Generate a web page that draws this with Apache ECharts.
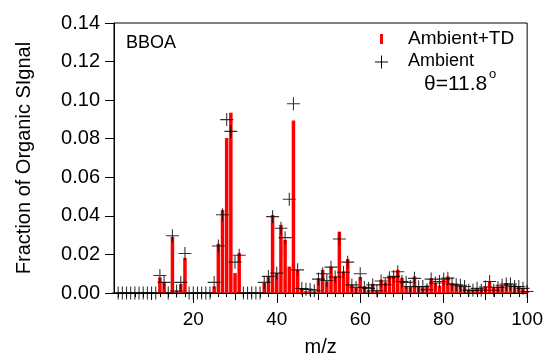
<!DOCTYPE html>
<html>
<head>
<meta charset="utf-8">
<script src="https://cdn.jsdelivr.net/npm/echarts@6/dist/echarts.min.js"></script>
<style>
html,body{margin:0;padding:0;background:#fff;}
#c{width:546px;height:362px;}
</style>
</head>
<body>
<div id="c"></div>
<script>
// m/z values (x categories)
var mz = [2,3,4,5,6,7,8,9,10,11,12,13,14,15,16,17,18,19,20,21,22,23,24,25,26,27,28,29,30,31,32,33,34,35,36,37,38,39,40,41,42,43,44,45,46,47,48,49,50,51,52,53,54,55,56,57,58,59,60,61,62,63,64,65,66,67,68,69,70,71,72,73,74,75,76,77,78,79,80,81,82,83,84,85,86,87,88,89,90,91,92,93,94,95,96,97,98,99,100];

// Ambient+TD (red bars), fraction of organic signal
var ambientTD = [
  0,0,0,0,0,0,0,0,0,0,            // 2-11
  0.0081,0.0055,0.0005,0.0292,0.0012,0.0046,0.0182, // 12-18
  0,0,0,0,0,0,                    // 19-24
  0.0034,0.0255,0.0430,0.0804,0.0935,0.0103,0.0207, // 25-31
  0,0,0,0,0,                      // 32-36
  0.0052,0.0086,0.0404,0.0103,0.0353,0.0275,0.0137,0.0895,0.0120,0.0026, // 37-46
  0.0010,0.0008,0.0008,0.0077,0.0120,0.0060,0.0137,0.0086,0.0318,0.0112, // 47-56
  0.0176,0.0043,0.0026,0.0083,0.0034,0.0017,0.0048,0.0014,0.0069,0.0055, // 57-66
  0.0083,0.0086,0.0120,0.0079,0.0034,0.0034,0.0086,0.0033,0.0030,0.0040, // 67-76
  0.0077,0.0052,0.0038,0.0069,0.0086,0.0052,0.0043,0.0038,0.0034,0.0017, // 77-86
  0.0017,0.0026,0.0021,0.0034,0.0060,0.0026,0.0034,0.0038,0.0052,0.0043, // 87-96
  0.0043,0.0031,0.0026,0.0008     // 97-100
];

// Ambient (black crosses)
var ambient = [
  0,0,0,0,0,0,0,0,0,0,            // 2-11
  0.0091,0.0055,0,0.0297,0.0010,0.0055,0.0205, // 12-18
  0,0,0,0,0,0,                    // 19-24
  0.0055,0.0244,0.0406,0.0899,0.0838,0.0160,0.0196, // 25-31
  0,0,0,0,0,                      // 32-36
  0.0055,0.0086,0.0396,0.0103,0.0336,0.0287,0.0486,0.0981,0.0120,0.0023, // 37-46
  0.0020,0.0018,0.0012,0.0072,0.0100,0.0065,0.0134,0.0083,0.0280,0.0108, // 47-56
  0.0160,0.0042,0.0029,0.0100,0.0029,0.0024,0.0042,0.0012,0.0062,0.0043, // 57-66
  0.0079,0.0086,0.0110,0.0060,0.0055,0.0034,0.0076,0.0033,0.0034,0.0017, // 67-76
  0.0072,0.0052,0.0060,0.0072,0.0077,0.0047,0.0043,0.0040,0.0034,0.0014, // 77-86
  0.0014,0.0024,0.0014,0.0031,0.0060,0.0014,0.0029,0.0040,0.0047,0.0047, // 87-96
  0.0034,0.0034,0.0024,0.0008     // 97-100
];

// Tick labels / tick positions
var xMajorTicks = [20,40,60,80,100];
var xMidTicks = [10,30,50,70,90];
var xMinorTicks = [2,4,6,8,12,14,16,18,22,24,26,28,32,34,36,38,42,44,46,48,52,54,56,58,62,64,66,68,72,74,76,78,82,84,86,88,92,94,96,98];
var yTicks = [0,0.02,0.04,0.06,0.08,0.10,0.12,0.14];

var FONT = 'Liberation Sans, Arial, Helvetica, sans-serif';

var barData = [], crossData = [];
for (var i = 0; i < mz.length; i++) {
  if (ambientTD[i] > 0) barData.push([mz[i], ambientTD[i]]);
  crossData.push([mz[i], ambient[i]]);
}

var PLUS = 'path://M0,5.5h12v1h-12z M5.5,0h1v12h-1z';

function xAx(ticks, len, showLine, showLabel) {
  return {
    type: 'value', min: 1, max: 100, position: 'bottom', gridIndex: 0,
    splitLine: {show: false},
    axisLine: {show: showLine, onZero: false, lineStyle: {color: '#000', width: 1}},
    axisTick: {show: true, inside: false, length: len, customValues: ticks, lineStyle: {color: '#000', width: 1}},
    axisLabel: {show: showLabel, customValues: showLabel ? ticks : undefined, color: '#000', fontSize: 19, fontFamily: FONT, margin: 17},
    name: showLabel ? 'm/z' : '',
    nameLocation: 'middle', nameGap: 44,
    nameTextStyle: {color: '#000', fontSize: 20, fontFamily: FONT}
  };
}

var chart = echarts.init(document.getElementById('c'), null, {renderer: 'canvas'});
chart.setOption({
  animation: false,
  backgroundColor: '#fff',
  grid: {left: 114, right: 17, top: 23, bottom: 69, show: true, borderColor: '#000', borderWidth: 1, backgroundColor: 'transparent'},
  xAxis: [
    xAx(xMajorTicks, 10, true, true),
    xAx(xMidTicks, 7, false, false),
    xAx(xMinorTicks, 4, false, false)
  ],
  yAxis: {
    type: 'value', min: 0, max: 0.14, interval: 0.02,
    splitLine: {show: false},
    axisLine: {show: true, lineStyle: {color: '#000', width: 1}},
    axisTick: {show: true, inside: false, length: 9, lineStyle: {color: '#000', width: 1}},
    axisLabel: {color: '#000', fontSize: 20, fontFamily: FONT, margin: 14,
      formatter: function (v) { return v.toFixed(2); }},
    name: 'Fraction of Organic SIgnal',
    nameLocation: 'middle', nameGap: 80, nameRotate: 90,
    nameTextStyle: {color: '#000', fontSize: 20, fontFamily: FONT}
  },
  series: [
    {
      name: 'Ambient+TD', type: 'bar', xAxisIndex: 0, yAxisIndex: 0,
      data: barData, barWidth: 3.5,
      itemStyle: {color: '#ff0000'}, z: 2
    },
    {
      name: 'Ambient', type: 'scatter', xAxisIndex: 0, yAxisIndex: 0,
      data: crossData, symbol: PLUS, symbolSize: 13, clip: false,
      itemStyle: {color: '#000'}, z: 3
    }
  ],
  graphic: [
    {type: 'text', left: 126, top: 34, style: {text: 'BBOA', fill: '#000', font: '18px ' + FONT}},
    {type: 'rect', shape: {x: 380, y: 34, width: 3, height: 10}, style: {fill: '#ff0000'}},
    {type: 'rect', shape: {x: 375, y: 61.5, width: 13, height: 1}, style: {fill: '#000'}},
    {type: 'rect', shape: {x: 381, y: 55.5, width: 1, height: 13}, style: {fill: '#000'}},
    {type: 'text', x: 408, y: 39, style: {text: 'Ambient+TD', fill: '#000', font: '19px ' + FONT, verticalAlign: 'middle'}},
    {type: 'text', x: 408, y: 61, style: {text: 'Ambient', fill: '#000', font: '18px ' + FONT, verticalAlign: 'middle'}},
    {type: 'text', x: 424, y: 84, style: {text: 'θ=11.8', fill: '#000', font: '21px ' + FONT, verticalAlign: 'middle'}},
    {type: 'text', x: 489, y: 74, style: {text: 'o', fill: '#000', font: '13px ' + FONT, verticalAlign: 'middle'}}
  ]
});
</script>
</body>
</html>
